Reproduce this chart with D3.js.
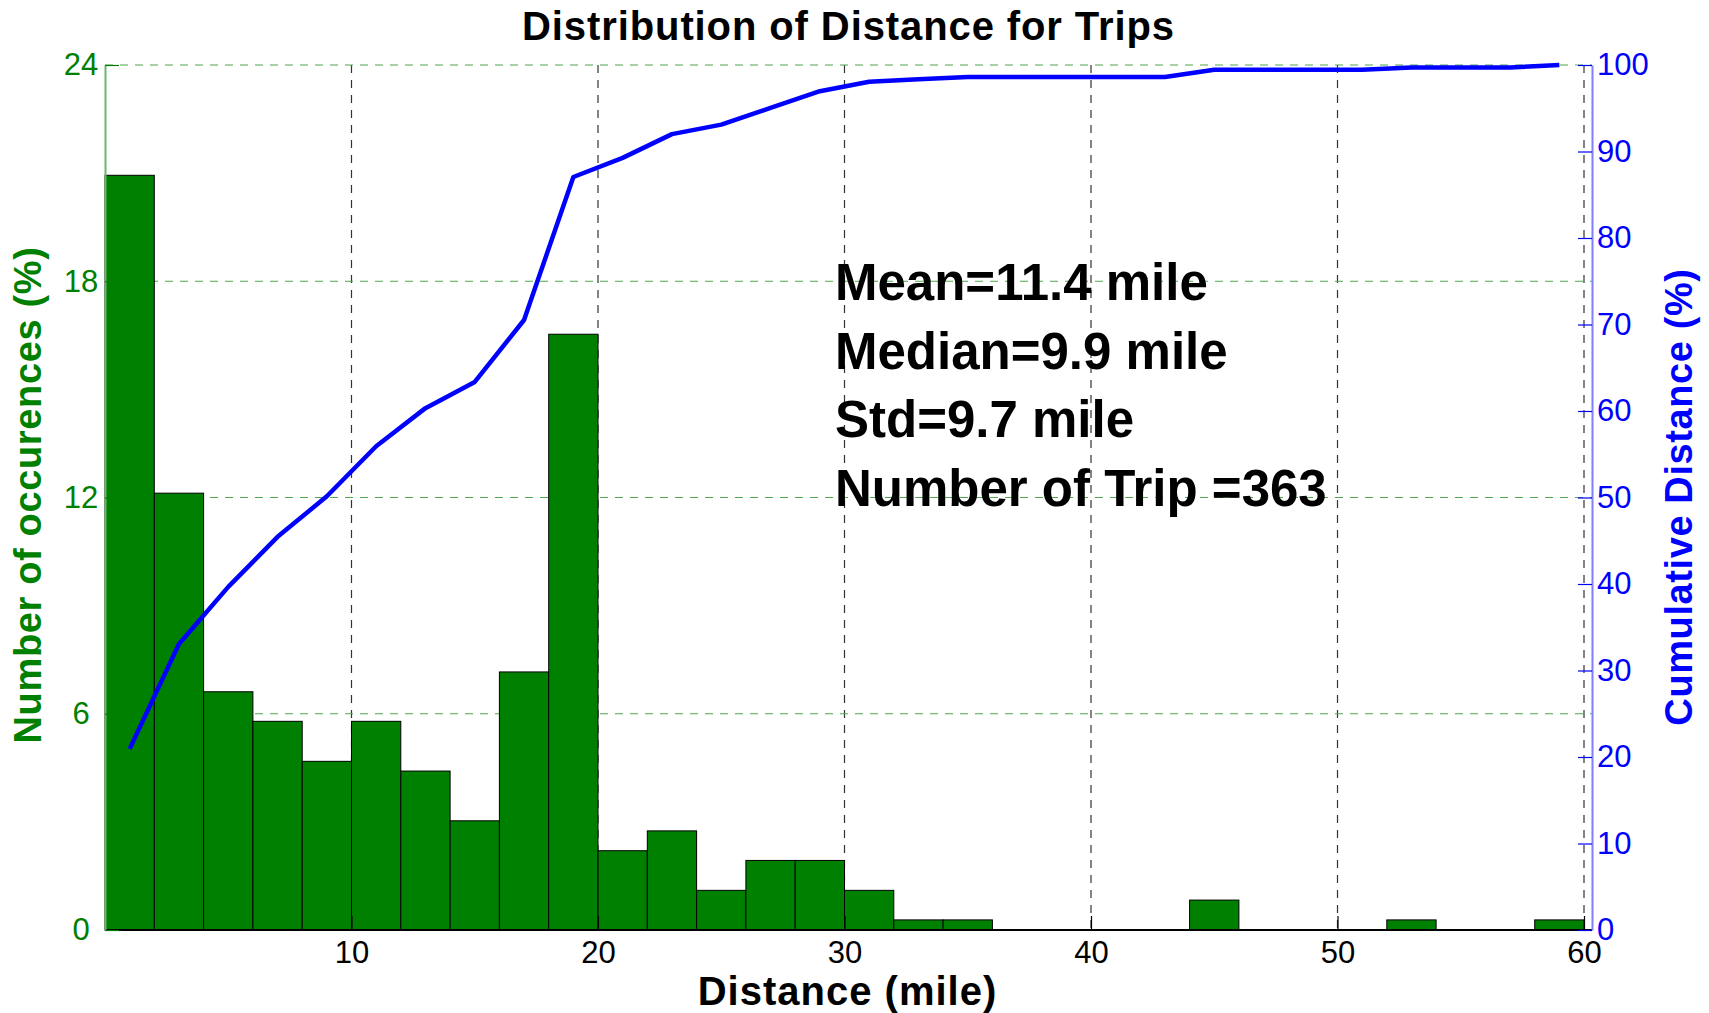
<!DOCTYPE html>
<html>
<head>
<meta charset="utf-8">
<script src="https://cdn.jsdelivr.net/npm/d3@7"></script>
<style>
  body { margin: 0; background: #fff; }
  svg { display: block; }
  text { font-family: "Liberation Sans", Arial, Helvetica, sans-serif; }
</style>
</head>
<body>
<svg id="chart" width="1709" height="1013"></svg>
<script>
// Histogram bins (miles): each bin spans [start, start + binWidth)
const binWidth = 2;
const binStarts = [0, 2, 4, 6, 8, 10, 12, 14, 16, 18, 20, 22, 24, 26, 28,
                   30, 32, 34, 36, 38, 40, 42, 44, 46, 48, 50, 52, 54, 56, 58];
// Share of trips falling in each bin (%)
const occurrencePct = [20.94, 12.12, 6.61, 5.79, 4.68, 5.79, 4.41, 3.03, 7.16, 16.53,
                       2.20, 2.75, 1.10, 1.93, 1.93, 1.10, 0.28, 0.28, 0, 0,
                       0, 0, 0.83, 0, 0, 0, 0.28, 0, 0, 0.28];
// Cumulative share (%) plotted at each bin centre
const binCentres = [1, 3, 5, 7, 9, 11, 13, 15, 17, 19, 21, 23, 25, 27, 29,
                    31, 33, 35, 37, 39, 41, 43, 45, 47, 49, 51, 53, 55, 57, 59];
const cumulativePct = [20.94, 33.06, 39.67, 45.45, 50.14, 55.92, 60.33, 63.36, 70.52, 87.05,
                       89.26, 92.01, 93.11, 95.04, 96.97, 98.07, 98.35, 98.62, 98.62, 98.62,
                       98.62, 98.62, 99.45, 99.45, 99.45, 99.45, 99.72, 99.72, 99.72, 100];

const xTicks = [10, 20, 30, 40, 50, 60];
const leftTicks = [0, 6, 12, 18, 24];
const rightTicks = [0, 10, 20, 30, 40, 50, 60, 70, 80, 90, 100];
const statsLines = ["Mean=11.4 mile", "Median=9.9 mile", "Std=9.7 mile", "Number of Trip =363"];

const chartTitle = "Distribution of Distance for Trips";
const xTitle = "Distance (mile)";
const leftTitle = "Number of occurences (%)";
const rightTitle = "Cumulative Distance (%)";

// Layout
const plot = { left: 105, right: 1584, top: 65, bottom: 930 };
const rightAxisX = 1592;
const tickLen = 14;
const GREEN = "#008000";
const BLUE = "#0000ff";

const svg = d3.select("#chart");

const x = d3.scaleLinear().domain([0, 60]).range([plot.left, plot.right]);
const yL = d3.scaleLinear().domain([0, 24]).range([plot.bottom, plot.top]);
const yR = d3.scaleLinear().domain([0, 100]).range([plot.bottom, plot.top]);

// Grid: vertical (black dashed) and horizontal (green dashed), behind the bars
const grid = svg.append("g").attr("class", "grid");
grid.selectAll("line.vgrid").data(xTicks).join("line")
  .attr("class", "vgrid")
  .attr("x1", d => x(d)).attr("x2", d => x(d))
  .attr("y1", plot.top).attr("y2", plot.bottom)
  .attr("stroke", "#333").attr("stroke-width", 1.2)
  .attr("stroke-dasharray", "8,7");
grid.selectAll("line.hgrid").data(leftTicks.filter(d => d > 0)).join("line")
  .attr("class", "hgrid")
  .attr("x1", plot.left).attr("x2", rightAxisX)
  .attr("y1", d => yL(d)).attr("y2", d => yL(d))
  .attr("stroke", "#4fa84f").attr("stroke-width", 1.2)
  .attr("stroke-dasharray", "8,7");

// Histogram bars
const bins = binStarts.map((s, i) => ({ start: s, value: occurrencePct[i] }));
svg.append("g").attr("class", "bars")
  .selectAll("rect").data(bins.filter(d => d.value > 0)).join("rect")
  .attr("x", d => x(d.start))
  .attr("width", d => x(d.start + binWidth) - x(d.start))
  .attr("y", d => yL(d.value))
  .attr("height", d => yL(0) - yL(d.value))
  .attr("fill", GREEN)
  .attr("stroke", "#000")
  .attr("stroke-width", 1);

// Cumulative curve
const cumData = binCentres.map((c, i) => ({ x: c, y: cumulativePct[i] }));
svg.append("path")
  .datum(cumData)
  .attr("fill", "none")
  .attr("stroke", BLUE)
  .attr("stroke-width", 4.5)
  .attr("stroke-linejoin", "round")
  .attr("d", d3.line().x(d => x(d.x)).y(d => yR(d.y)));

// Bottom axis
const xAxis = d3.axisBottom(x).tickValues(xTicks).tickSizeInner(-tickLen).tickSizeOuter(0).tickPadding(11);
const gx = svg.append("g").attr("transform", `translate(0,${plot.bottom})`).call(xAxis);
gx.select(".domain").remove();
gx.selectAll(".tick line").attr("stroke", "#000").attr("stroke-width", 1.2);
gx.selectAll(".tick text").attr("font-size", 31).attr("fill", "#000");
svg.append("line")
  .attr("x1", plot.left).attr("x2", rightAxisX)
  .attr("y1", plot.bottom).attr("y2", plot.bottom)
  .attr("stroke", "#000").attr("stroke-width", 2.2);

// Left axis (green)
const yAxisL = d3.axisLeft(yL).tickValues(leftTicks).tickSizeInner(-tickLen).tickSizeOuter(0);
const gl = svg.append("g").attr("transform", `translate(${plot.left},0)`).call(yAxisL);
gl.select(".domain").attr("stroke", "#6bb86b").attr("stroke-width", 2);
gl.selectAll(".tick line").attr("stroke", GREEN).attr("stroke-width", 1.2);
gl.selectAll(".tick text")
  .attr("x", -24).attr("text-anchor", "middle")
  .attr("font-size", 31).attr("fill", GREEN);

// Right axis (blue)
const yAxisR = d3.axisRight(yR).tickValues(rightTicks).tickSizeInner(-tickLen).tickSizeOuter(0).tickPadding(5);
const gr = svg.append("g").attr("transform", `translate(${rightAxisX},0)`).call(yAxisR);
gr.select(".domain").attr("stroke", "#7f7fff").attr("stroke-width", 2);
gr.selectAll(".tick line").attr("stroke", BLUE).attr("stroke-width", 1.2);
gr.selectAll(".tick text").attr("font-size", 31).attr("fill", BLUE);

// Titles
svg.append("text")
  .attr("x", (plot.left + plot.right) / 2 + 4).attr("y", 40)
  .attr("text-anchor", "middle").attr("font-weight", "bold")
  .attr("font-size", 40).attr("letter-spacing", 0.9).attr("fill", "#000")
  .text(chartTitle);

svg.append("text")
  .attr("x", (plot.left + plot.right) / 2 + 3).attr("y", 1005)
  .attr("text-anchor", "middle").attr("font-weight", "bold")
  .attr("font-size", 40).attr("letter-spacing", 1.0).attr("fill", "#000")
  .text(xTitle);

svg.append("text")
  .attr("transform", `translate(41,495) rotate(-90)`)
  .attr("text-anchor", "middle").attr("font-weight", "bold")
  .attr("font-size", 38).attr("letter-spacing", 0.65).attr("fill", GREEN)
  .text(leftTitle);

svg.append("text")
  .attr("transform", `translate(1692,497) rotate(-90)`)
  .attr("text-anchor", "middle").attr("font-weight", "bold")
  .attr("font-size", 38).attr("letter-spacing", 0.6).attr("fill", BLUE)
  .text(rightTitle);

// Summary statistics
svg.append("g").selectAll("text").data(statsLines).join("text")
  .attr("x", 835)
  .attr("y", (d, i) => 300 + i * 68.7)
  .attr("font-weight", "bold").attr("font-size", 51).attr("fill", "#000")
  .text(d => d);
</script>
</body>
</html>
